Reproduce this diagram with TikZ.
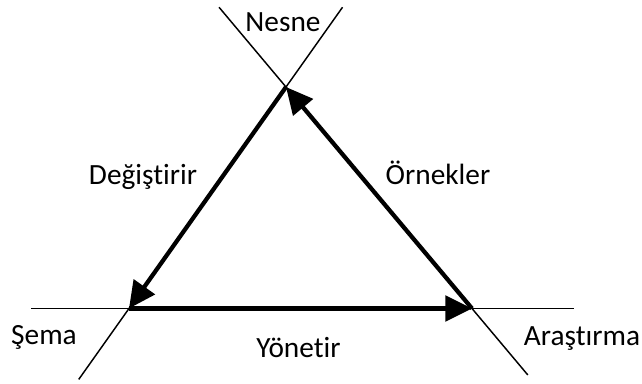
\documentclass[tikz,border=0pt]{standalone}
\usepackage{fontspec}
\setmainfont{Carlito}[Ligatures={NoCommon}]
\usetikzlibrary{arrows.meta,calc}
\begin{document}
\begin{tikzpicture}[x=0.75pt,y=0.75pt,font=\fontsize{22}{25}\selectfont,
    thinline/.style={black,line width=1.1pt},
    thickarrow/.style={black,line width=3.2pt,-{Triangle[length=20pt,width=19pt]}},
    lbl/.style={anchor=base,inner sep=0pt}]
  \path[use as bounding box] (0,0) rectangle (642,383);
  % corners of the triangle
  \coordinate (nesne) at (286,296);
  \coordinate (sema) at (129,74.5);
  \coordinate (arastirma) at (472,74.5);
  % free ends of the thin lines
  \coordinate (lt top) at ($(sema)!1.36!(nesne)$);
  \coordinate (lt bot) at ($(nesne)!1.32!(sema)$);
  \coordinate (rt top) at ($(arastirma)!1.36!(nesne)$);
  \coordinate (rt bot) at ($(nesne)!1.30!(arastirma)$);
  \coordinate (h left) at (31,74.5);
  \coordinate (h right) at (574,74.5);
  \draw[thinline] (lt bot) -- (lt top);
  \draw[thinline] (rt bot) -- (rt top);
  \draw[thinline] (h left) -- (h right);
  \draw[thickarrow] (nesne) -- (sema);
  \draw[thickarrow] (sema) -- (arastirma);
  \draw[thickarrow] (arastirma) -- (nesne);
  \node[lbl] (nesnelbl) at (283,351) {Nesne};
  \node[lbl] (degistirir) at (143,199) {Değiştirir};
  \node[lbl] (ornekler) at (438,199) {Örnekler};
  \node[lbl] (yonetir) at (298.5,26) {Yönetir};
  \node[lbl] (semalbl) at (44,39) {Şema};
  \node[lbl] (arastirmalbl) at (582,38) {Araştırma};
\end{tikzpicture}
\end{document}
